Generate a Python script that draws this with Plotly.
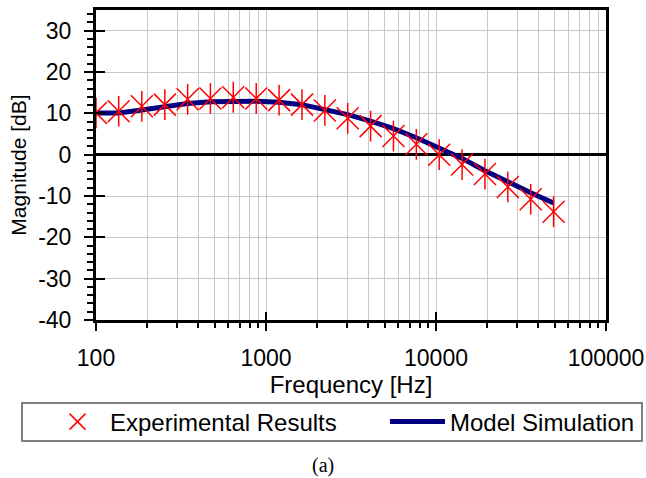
import plotly.graph_objects as go

# ---- data ----
freq_hz = [100, 136, 186, 254, 346, 471, 642, 876, 1194, 1628, 2219,
           3024, 4123, 5620, 7661, 10443, 14236, 19406, 26454, 36061, 49157]
experimental_db = [10.1, 10.5, 11.7, 12.1, 13.4, 13.6, 13.9, 13.6, 13.2, 12.1, 10.7,
                   8.8, 6.9, 4.5, 2.5, 0.0, -2.4, -4.7, -7.8, -10.8, -13.8]
model_db = [10.1, 10.1, 10.8, 11.7, 12.4, 12.8, 12.9, 12.9, 12.7, 12.1, 10.9,
            9.7, 8.1, 6.3, 4.1, 1.6, -0.9, -3.9, -6.7, -9.2, -11.7]
x_tickvals = [100, 1000, 10000, 100000]
x_ticktext = ["100", "1000", "10000", "100000"]
y_tickvals = [-40, -30, -20, -10, 0, 10, 20, 30]
y_ticktext = ["-40", "-30", "-20", "-10", "0", "10", "20", "30"]
series_names = ["Experimental Results", "Model Simulation"]

FONT = "Liberation Sans, Arial, sans-serif"
GRID = "#c8c8c8"

fig = go.Figure()

# model line (drawn first so markers sit on top)
fig.add_trace(go.Scatter(
    x=freq_hz, y=model_db, mode="lines", name=series_names[1],
    line=dict(color="#000080", width=5), legend="legend2",
))
# experimental: x-shaped part
fig.add_trace(go.Scatter(
    x=freq_hz, y=experimental_db, mode="markers", name=series_names[0],
    marker=dict(symbol="x-thin-open", size=22, color="#ff0000",
                line=dict(color="#ff0000", width=1.5)),
    legend="legend",
))
# experimental: vertical stroke of the star
fig.add_trace(go.Scatter(
    x=freq_hz, y=experimental_db, mode="markers", showlegend=False,
    marker=dict(symbol="line-ns-open", size=22, color="#ff0000",
                line=dict(color="#ff0000", width=1.5)),
))
# helper trace for overlay axes carrying the inner half of the major ticks
fig.add_trace(go.Scatter(
    x=[freq_hz[0]], y=[model_db[0]], xaxis="x2", yaxis="y2",
    mode="markers", marker=dict(opacity=0), showlegend=False, hoverinfo="skip",
))

legend_common = dict(
    orientation="h", xanchor="left",
    y=(320 - 422) / 310, yanchor="middle",
    bgcolor="rgba(0,0,0,0)", borderwidth=0,
    itemwidth=55,
    font=dict(size=24, family=FONT),
)

fig.update_layout(
    width=646, height=478,
    margin=dict(l=96, r=40, t=10, b=158, autoexpand=False),
    paper_bgcolor="white", plot_bgcolor="white",
    font=dict(family=FONT, size=23, color="black"),
    xaxis=dict(
        type="log", range=[2, 5], automargin=False,
        tickvals=x_tickvals, ticktext=x_ticktext,
        ticks="outside", ticklen=8, tickwidth=2, tickcolor="black",
        showline=True, linewidth=3, linecolor="black", mirror=True,
        showgrid=True, gridcolor=GRID, gridwidth=1,
        minor=dict(dtick="D1", ticks="outside", ticklen=5, tickwidth=2,
                   tickcolor="black", showgrid=True, gridcolor=GRID, gridwidth=1),
        tickfont=dict(size=23),
        ticklabelstandoff=7,
        title=dict(text="Frequency [Hz]", font=dict(size=24), standoff=4),
    ),
    yaxis=dict(
        range=[-40, 35], tickvals=y_tickvals, ticktext=y_ticktext, automargin=False,
        ticks="outside", ticklen=9, tickwidth=2, tickcolor="black",
        showline=True, linewidth=3, linecolor="black", mirror=True,
        showgrid=True, gridcolor=GRID, gridwidth=1,
        zeroline=True, zerolinecolor="black", zerolinewidth=3,
        minor=dict(dtick=2, ticks="outside", ticklen=6, tickwidth=2,
                   tickcolor="black", showgrid=False),
        tickfont=dict(size=23),
        ticklabelstandoff=8,
        title=dict(text="Magnitude [dB]", font=dict(size=21), standoff=6),
    ),
    xaxis2=dict(
        type="log", overlaying="x", matches="x", range=[2, 5], automargin=False,
        tickvals=x_tickvals, showticklabels=False,
        ticks="inside", ticklen=8, tickwidth=2, tickcolor="black",
        showline=False, showgrid=False, zeroline=False,
    ),
    yaxis2=dict(
        overlaying="y", matches="y", range=[-40, 35], automargin=False,
        tickvals=y_tickvals, showticklabels=False,
        ticks="inside", ticklen=9, tickwidth=2, tickcolor="black",
        showline=False, showgrid=False, zeroline=False,
    ),
    legend=dict(legend_common, x=(45 - 96) / 510),
    legend2=dict(legend_common, x=(385 - 96) / 510),
    shapes=[dict(
        type="rect", xref="paper", yref="paper",
        x0=(22 - 96) / 510, x1=(642 - 96) / 510,
        y0=(320 - 403) / 310, y1=(320 - 441) / 310,
        line=dict(color="#555555", width=1.5), fillcolor="rgba(0,0,0,0)",
        layer="below",
    )],
    annotations=[dict(
        text="(a)", xref="paper", yref="paper",
        x=(323 - 96) / 510, y=(320 - 465) / 310,
        xanchor="center", yanchor="middle", showarrow=False,
        font=dict(family="Liberation Serif, Times New Roman, serif", size=20),
    )],
)

fig.write_html("out.html")
